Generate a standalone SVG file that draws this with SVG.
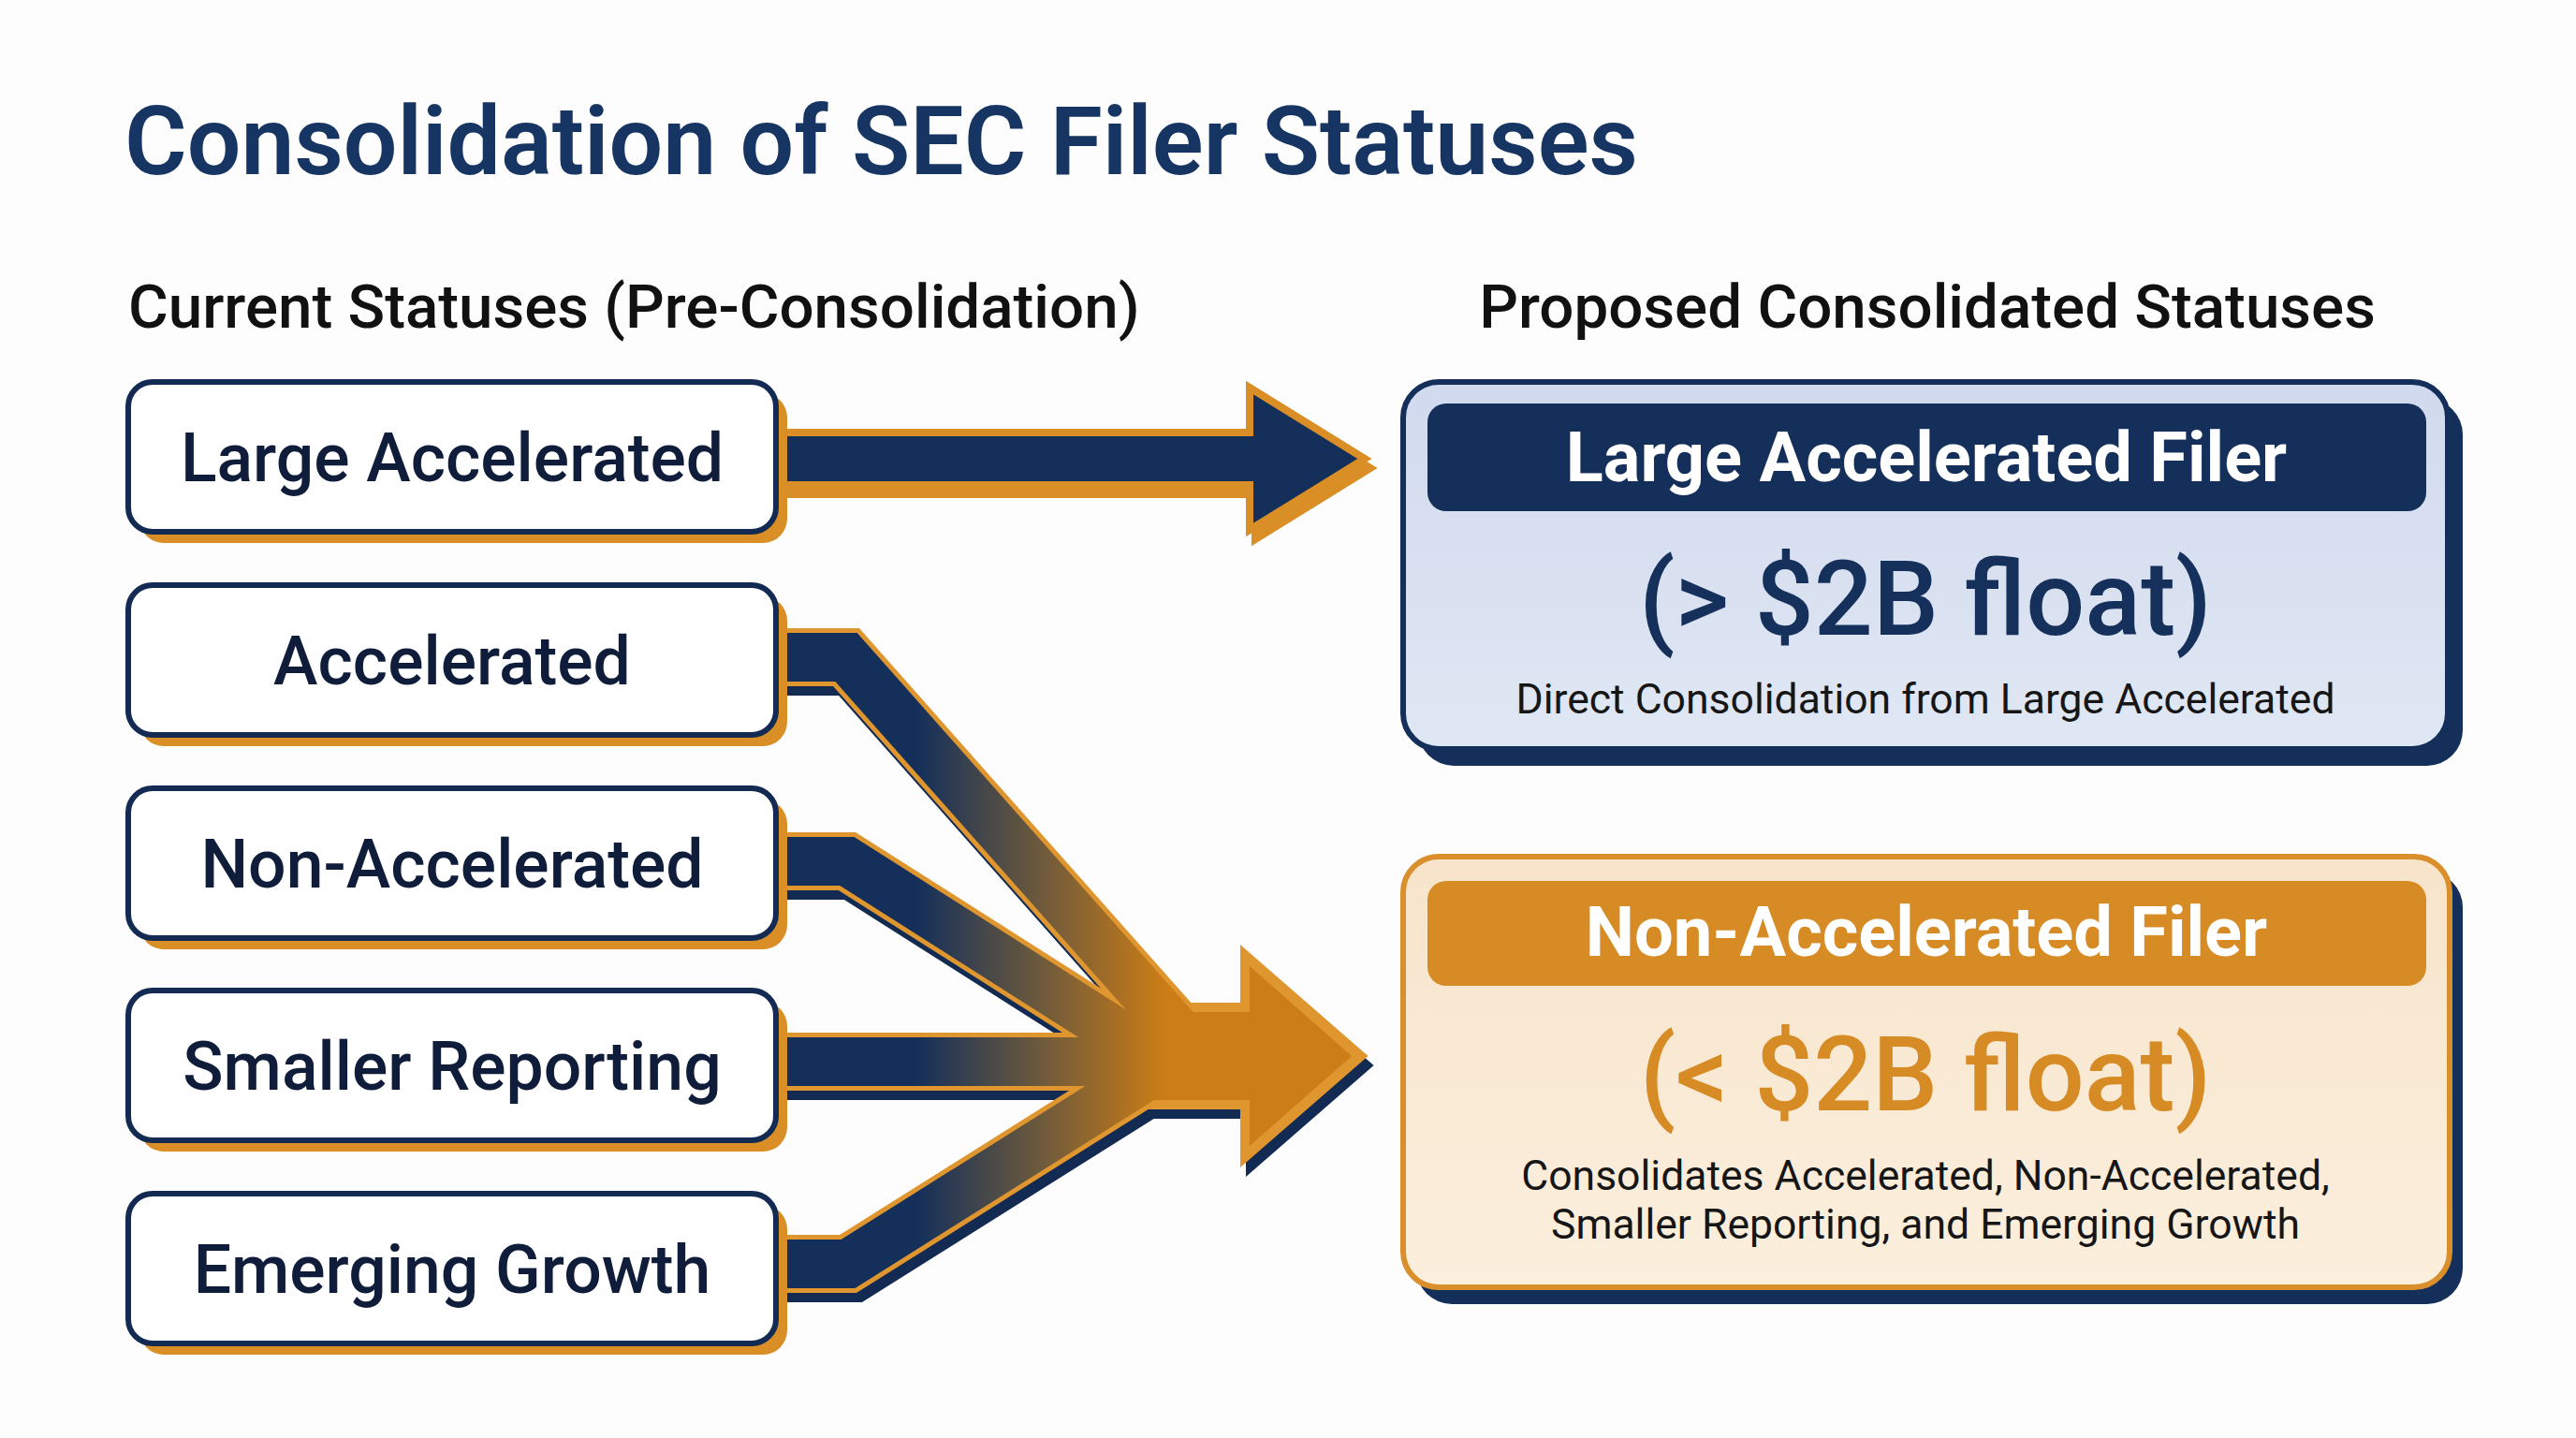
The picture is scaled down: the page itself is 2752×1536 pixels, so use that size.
<svg xmlns="http://www.w3.org/2000/svg" width="2752" height="1536" viewBox="0 0 2752 1536">
<defs>
<style>
.t{font-family:Roboto,"Liberation Sans",sans-serif}
.lbl{font-size:71.5px;font-weight:500;fill:#0f1d3a;text-anchor:middle}
.lbox{fill:#fff;stroke:#132b52;stroke-width:6}
.lsh{fill:#d98f26}
.hdr{font-size:74px;font-weight:700;fill:#fff;text-anchor:middle}
.big{font-size:111px;font-weight:500;text-anchor:middle}
.sub{font-size:44.5px;font-weight:400;fill:#161616;text-anchor:middle}
.br{fill:none;stroke-linejoin:miter;stroke-linecap:butt}
</style>
<linearGradient id="mg" gradientUnits="userSpaceOnUse" x1="980" y1="0" x2="1245" y2="0">
<stop offset="0" stop-color="#14305a"/><stop offset="0.5" stop-color="#6e5a3c"/><stop offset="1" stop-color="#cc7d15"/>
</linearGradient>
<linearGradient id="fa" x1="0" y1="0" x2="0" y2="1">
<stop offset="0" stop-color="#d1daee"/><stop offset="1" stop-color="#e0e7f4"/>
</linearGradient>
<linearGradient id="fb" x1="0" y1="0" x2="0" y2="1">
<stop offset="0" stop-color="#f7e4cb"/><stop offset="1" stop-color="#fbefdd"/>
</linearGradient>
</defs>
<rect width="2752" height="1536" fill="#fdfdfd"/>
<text class="t" x="133" y="186" font-size="102" font-weight="600" fill="#163563">Consolidation of SEC Filer Statuses</text>
<text class="t" x="137" y="350" font-size="65.5" font-weight="500" fill="#111">Current Statuses (Pre-Consolidation)</text>
<text class="t" x="2059" y="350" font-size="65.5" font-weight="500" fill="#111" text-anchor="middle">Proposed Consolidated Statuses</text>

<g id="connectors">
<g id="arrow-direct">
<path transform="translate(6,10)" d="M835 462 L1335 462 L1335 414 L1458 490 L1335 566 L1335 518 L835 518 Z" fill="#d98f26" stroke="#d98f26" stroke-width="8" stroke-linejoin="miter"/>
<path d="M835 462 L1335 462 L1335 414 L1458 490 L1335 566 L1335 518 L835 518 Z" fill="#14305a" stroke="#d98f26" stroke-width="8" stroke-linejoin="miter"/>
</g>
<g id="arrow-merge">
<g transform="translate(6,10)">
<g class="br" stroke="#132b52" stroke-width="62">
<path d="M835 702 L904 702 L1262 1106"/>
<path d="M835 920 L905 920 L1240 1133"/>
<path d="M835 1134 L1250 1134"/>
<path d="M835 1350 L906 1350 L1240 1140"/>
</g>
<path d="M1225 1076 L1330 1076 L1330 1020 L1454 1128 L1330 1236 L1330 1180 L1225 1180 Z" fill="#132b52" stroke="#132b52" stroke-width="10"/>
</g>
<g class="br" stroke="#e0962f" stroke-width="62">
<path d="M835 702 L904 702 L1262 1106"/>
<path d="M835 920 L905 920 L1240 1133"/>
<path d="M835 1134 L1250 1134"/>
<path d="M835 1350 L906 1350 L1240 1140"/>
</g>
<path d="M1225 1076 L1330 1076 L1330 1020 L1454 1128 L1330 1236 L1330 1180 L1225 1180 Z" fill="#e0962f" stroke="#e0962f" stroke-width="10" stroke-linejoin="miter"/>
<g class="br" stroke="url(#mg)" stroke-width="52">
<path d="M835 702 L904 702 L1262 1106"/>
<path d="M835 920 L905 920 L1240 1133"/>
<path d="M835 1134 L1250 1134"/>
<path d="M835 1350 L906 1350 L1240 1140"/>
</g>
<path d="M1225 1081 L1335 1081 L1335 1032 L1444 1128 L1335 1224 L1335 1175 L1225 1175 Z" fill="url(#mg)"/>
</g>
</g>

<g id="node-large-accelerated">
<rect class="lsh" x="149" y="420" width="692" height="160" rx="26"/>
<rect class="lbox" x="137" y="408" width="692" height="160" rx="26"/>
<text class="t lbl" x="483" y="514">Large Accelerated</text>
</g>
<g id="node-accelerated">
<rect class="lsh" x="149" y="637" width="692" height="160" rx="26"/>
<rect class="lbox" x="137" y="625" width="692" height="160" rx="26"/>
<text class="t lbl" x="483" y="731">Accelerated</text>
</g>
<g id="node-non-accelerated">
<rect class="lsh" x="149" y="854" width="692" height="160" rx="26"/>
<rect class="lbox" x="137" y="842" width="692" height="160" rx="26"/>
<text class="t lbl" x="483" y="948">Non-Accelerated</text>
</g>
<g id="node-smaller-reporting">
<rect class="lsh" x="149" y="1070" width="692" height="160" rx="26"/>
<rect class="lbox" x="137" y="1058" width="692" height="160" rx="26"/>
<text class="t lbl" x="483" y="1164">Smaller Reporting</text>
</g>
<g id="node-emerging-growth">
<rect class="lsh" x="149" y="1287" width="692" height="160" rx="26"/>
<rect class="lbox" x="137" y="1275" width="692" height="160" rx="26"/>
<text class="t lbl" x="483" y="1381">Emerging Growth</text>
</g>

<g id="node-large-accelerated-filer">
<rect x="1515" y="426" width="1116" height="392" rx="38" fill="#14305a"/>
<rect x="1499" y="408" width="1116" height="392" rx="38" fill="url(#fa)" stroke="#14305a" stroke-width="6"/>
<rect x="1525" y="431" width="1067" height="115" rx="20" fill="#14305a"/>
<text class="t hdr" x="2058" y="514">Large Accelerated Filer</text>
<text class="t big" x="2057" y="678" fill="#15305a">(&gt; $2B float)</text>
<text class="t sub" x="2057" y="762">Direct Consolidation from Large Accelerated</text>
</g>
<g id="node-non-accelerated-filer">
<rect x="1513" y="931" width="1118" height="462" rx="38" fill="#14305a"/>
<rect x="1499" y="915" width="1118" height="460" rx="38" fill="url(#fb)" stroke="#d98f2b" stroke-width="6"/>
<rect x="1525" y="941" width="1067" height="112" rx="20" fill="#d68b25"/>
<text class="t hdr" x="2058" y="1021">Non-Accelerated Filer</text>
<text class="t big" x="2057" y="1186" fill="#d68b25">(&lt; $2B float)</text>
<text class="t sub" x="2057" y="1271">Consolidates Accelerated, Non-Accelerated,</text>
<text class="t sub" x="2057" y="1323">Smaller Reporting, and Emerging Growth</text>
</g>
</svg>
